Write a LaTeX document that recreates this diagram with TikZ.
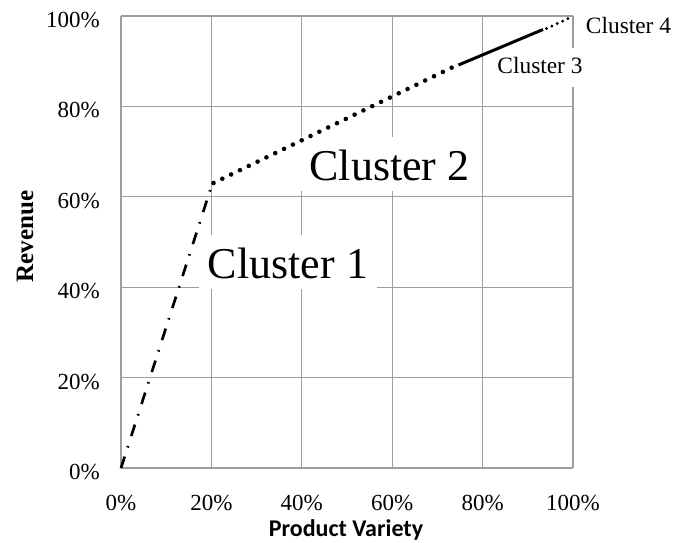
\documentclass[tikz,border=0pt]{standalone}
\usepackage{fontspec}
\setmainfont{Liberation Serif}
\newfontfamily\calibri{Carlito}
\begin{document}
\begin{tikzpicture}[x=1pt,y=-1pt,
  gridline/.style={draw=black!38, line width=1.1pt},
  ticklab/.style={font=\fontsize{23}{27}\selectfont, inner sep=0pt},
  bigclus/.style={font=\fontsize{44}{50}\selectfont, fill=white, inner xsep=9pt, inner ysep=0pt, text height=43pt, text depth=11pt, anchor=base},
  smallclus/.style={font=\fontsize{23.4}{27}\selectfont, inner xsep=5pt, inner ysep=0pt, text height=25pt, text depth=14pt, anchor=base},
  dashdotline/.style={line width=2.7pt, dash pattern=on 12pt off 9.5pt on 1.6pt off 10.5pt},
  bigdots/.style={line width=4.6pt, line cap=round, dash pattern=on 0pt off 9.8pt},
  smalldots/.style={line width=3.2pt, line cap=round, dash pattern=on 0pt off 5.9pt},
  solidline/.style={line width=3pt}
]
\useasboundingbox (0,0) rectangle (676,542);
% grid
\foreach \i in {0,...,5}{
  \draw[gridline] ({121+90.4*\i},16) -- ({121+90.4*\i},468);
  \draw[gridline] (121,{468-90.4*\i}) -- (573,{468-90.4*\i});
}
% tick labels
\foreach \i/\t in {0/0\%,1/20\%,2/40\%,3/60\%,4/80\%,5/100\%}{
  \node[ticklab, anchor=base east] (ylab\i) at (100,{468-90.4*\i+11.5}) {\t};
  \node[ticklab, anchor=base] (xlab\i) at ({121+90.4*\i},510) {\t};
}
% axis titles
\node[font=\fontsize{25}{30}\selectfont\bfseries, rotate=90, anchor=base, inner sep=0pt] (ytitle) at (33,236.5) {Revenue};
\node[font=\fontsize{24}{29}\selectfont\calibri\bfseries, anchor=base, inner sep=0pt] (xtitle) at (346,536.5) {Product Variety};
% cluster labels
\node[bigclus] (cl1) at (288,278) {Cluster 1};
\node[bigclus] (cl2) at (389.5,180) {Cluster 2};
\node[smallclus, fill=white] (cl3) at (540,73) {Cluster 3};
\node[smallclus] (cl4) at (628.5,33) {Cluster 4};
% curve
\coordinate (c1s) at (121,468);
\coordinate (c1e) at (211.5,186);
\coordinate (c2s) at (213.5,183);
\coordinate (c2e) at (453,67);
\coordinate (c3s) at (458.5,65);
\coordinate (c3e) at (543,29.5);
\coordinate (c4s) at (546.5,28.5);
\coordinate (c4e) at (571.5,17);
\draw[dashdotline] (c1s) -- (c1e);
\draw[bigdots] (c2s) -- (c2e);
\draw[solidline] (c3s) -- (c3e);
\draw[smalldots] (c4s) -- (c4e);
\end{tikzpicture}
\end{document}
